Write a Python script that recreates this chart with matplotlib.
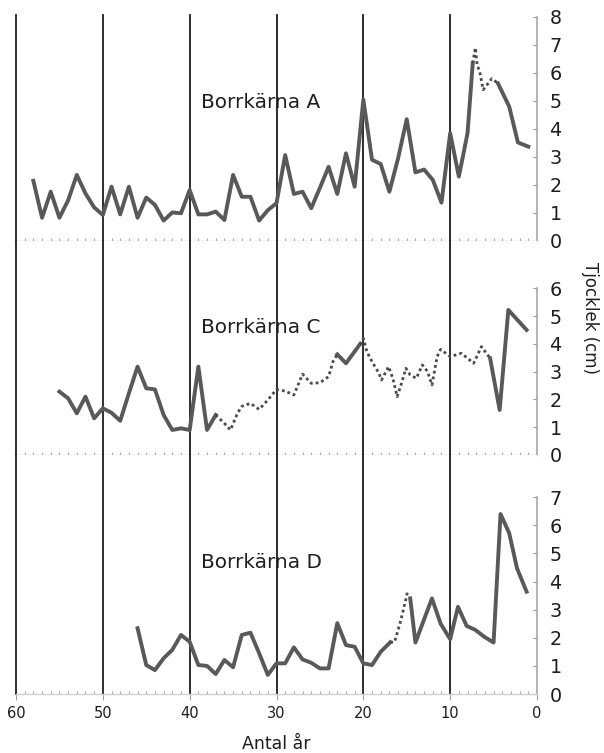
import numpy as np
import matplotlib.pyplot as plt

# Borrkärna A  (år före provtagning, tjocklek i cm)
a_year = [58, 57, 56, 55, 54, 53, 52, 51, 50, 49, 48, 47, 46, 45, 44, 43, 42, 41,
          40, 39, 38, 37, 36, 35, 34, 33, 32, 31, 30, 29, 28, 27, 26, 25, 24, 23,
          22, 21, 20, 19, 18, 17, 16, 15, 14, 13, 12, 11, 10, 9, 8, 7.4]
a_val = [2.15, 0.83, 1.76, 0.83, 1.45, 2.36, 1.7, 1.2, 0.93, 1.94, 0.95, 1.94,
         0.83, 1.55, 1.29, 0.73, 1.02, 0.99, 1.82, 0.95, 0.95, 1.05, 0.75, 2.36,
         1.58, 1.58, 0.73, 1.1, 1.35, 3.07, 1.68, 1.76, 1.17, 1.9, 2.65, 1.68,
         3.13, 1.94, 5.05, 2.9, 2.75, 1.76, 2.95, 4.35, 2.45, 2.55, 2.18, 1.37,
         3.85, 2.3, 3.85, 6.35]
a_dot_year = [7.4, 7.1, 6.9, 6.6, 6.2, 5.7, 5.2, 4.5]
a_dot_val = [6.35, 6.9, 6.3, 6.05, 5.4, 5.6, 5.8, 5.63]
a_end_year = [4.5, 3.2, 2.2, 1.0]
a_end_val = [5.63, 4.8, 3.52, 3.37]

# Borrkärna C
c_year = [55, 54, 53, 52, 51, 50, 49, 48, 47, 46, 45, 44, 43, 42, 41, 40, 39, 38, 37]
c_val = [2.28, 2.04, 1.5, 2.1, 1.32, 1.68, 1.52, 1.23, 2.22, 3.18, 2.4, 2.36,
         1.44, 0.9, 0.96, 0.9, 3.18, 0.9, 1.44]
c_dot1_year = [37, 36, 35.3, 34.5, 34, 33, 32, 31, 30, 29, 28, 27, 26, 25, 24, 23.5, 23]
c_dot1_val = [1.44, 1.14, 0.9, 1.5, 1.75, 1.86, 1.64, 1.98, 2.36, 2.3, 2.16,
              2.91, 2.58, 2.6, 2.82, 3.36, 3.62]
c_mid_year = [23, 22, 20.4]
c_mid_val = [3.62, 3.3, 3.98]
c_dot2_year = [20.4, 20, 19.6, 19, 18.2, 17.9, 17.1, 16.6, 16.1, 15.6, 15.1,
               14.6, 13.9, 13.2, 12.6, 12.1, 11.5, 11.1, 10, 8.7, 7.3, 6.4, 5.4]
c_dot2_val = [3.98, 4.2, 3.72, 3.36, 2.94, 2.7, 3.18, 2.76, 2.1, 2.58, 3.12,
              2.88, 2.76, 3.24, 3.0, 2.52, 3.54, 3.8, 3.54, 3.66, 3.3, 3.9, 3.48]
c_end_year = [5.4, 4.3, 3.3, 1.2]
c_end_val = [3.48, 1.62, 5.22, 4.5]

# Borrkärna D
d_year = [46, 45, 44, 43, 42, 41, 40, 39, 38, 37, 36, 35, 34, 33, 32, 31, 30,
          29, 28, 27, 26, 25, 24, 23, 22, 21, 20, 19, 18, 16.9]
d_val = [2.34, 1.03, 0.85, 1.27, 1.57, 2.1, 1.86, 1.03, 1.0, 0.71, 1.21, 0.95,
         2.1, 2.18, 1.45, 0.68, 1.09, 1.09, 1.66, 1.23, 1.11, 0.91, 0.91, 2.52,
         1.74, 1.68, 1.09, 1.03, 1.5, 1.84]
d_dot_year = [16.9, 16.4, 15.7, 15.0, 14.9]
d_dot_val = [1.84, 1.85, 2.6, 3.5, 3.7]
d_end_year = [14.6, 14.0, 12.1, 11.1, 10.0, 9.1, 8.1, 7.1, 6.1, 5.0, 4.2, 3.2, 2.3, 1.2]
d_end_val = [3.4, 1.83, 3.4, 2.5, 1.95, 3.1, 2.42, 2.28, 2.04, 1.83, 6.4, 5.72, 4.47, 3.64]

panels = [
    ("Borrkärna A", 8, 8.07, 4.96,
     [(a_year, a_val), (a_end_year, a_end_val)], [(a_dot_year, a_dot_val)]),
    ("Borrkärna C", 6, 7.70, 4.57,
     [(c_year, c_val), (c_mid_year, c_mid_val), (c_end_year, c_end_val)],
     [(c_dot1_year, c_dot1_val), (c_dot2_year, c_dot2_val)]),
    ("Borrkärna D", 7, 8.50, 4.66,
     [(d_year, d_val), (d_end_year, d_end_val)], [(d_dot_year, d_dot_val)]),
]
decades = [60, 50, 40, 30, 20, 10]

line_col = "#595959"
fig = plt.figure(figsize=(6.04, 7.53), dpi=100)
left, width = 16 / 604, (537 - 16) / 604
bounds = [(15, 241), (241, 455), (455, 694)]

for i, (name, ymax, ytop, ytext, solid, dotted) in enumerate(panels):
    top, bot = bounds[i]
    ax = fig.add_axes([left, 1 - bot / 753, width, (bot - top) / 753])
    ax.set_xlim(60, 0)
    ax.set_ylim(0, ytop)
    for d in decades:
        ax.axvline(d, color="#1e1e1e", lw=1.3, zorder=1, clip_on=False)
    for xs, ys in solid:
        ax.plot(xs, ys, color=line_col, lw=2.8, zorder=3)
    for xs, ys in dotted:
        ax.plot(xs, ys, color="#4a4a4a", lw=2.0, ls=(0, (1, 1.1)), zorder=3)
    ax.text(38.7, ytext, name, fontsize=14.4, color="#1e1e1e", va="center",
            ha="left", zorder=4)

    ax.spines["left"].set_visible(False)
    ax.spines["top"].set_visible(False)
    ax.spines["right"].set_color("#a0a0a0")
    ax.spines["right"].set_linewidth(1.1)
    ax.spines["right"].set_bounds(0, ymax)
    ax.spines["bottom"].set_color("#cfcfcf")
    ax.spines["bottom"].set_linewidth(1.0)

    ax.yaxis.tick_right()
    ax.set_yticks(range(ymax + 1))
    ax.tick_params(axis="y", direction="in", length=3, color="#a0a0a0",
                   labelsize=13.8, labelcolor="#1e1e1e", pad=9)

    ax.set_xticks([60, 50, 40, 30, 20, 10, 0])
    ax.set_xticks(np.arange(0, 61, 1), minor=True)
    ax.tick_params(axis="x", which="minor", direction="in", length=2.5,
                   color="#a8a8a8", width=0.8)
    ax.tick_params(axis="x", which="major", direction="out", length=4,
                   color="#a0a0a0", labelsize=10.5, labelcolor="#1e1e1e", pad=5)
    if i < 2:
        ax.tick_params(axis="x", which="major", labelbottom=False, length=0)
    else:
        ax.set_xlabel("Antal år", fontsize=12.5, color="#1e1e1e", labelpad=10)

fig.text(590 / 604, 1 - 318 / 753, "Tjocklek (cm)", rotation=270,
         fontsize=12, color="#1e1e1e", ha="center", va="center")

fig.savefig("out.png", dpi=100)
